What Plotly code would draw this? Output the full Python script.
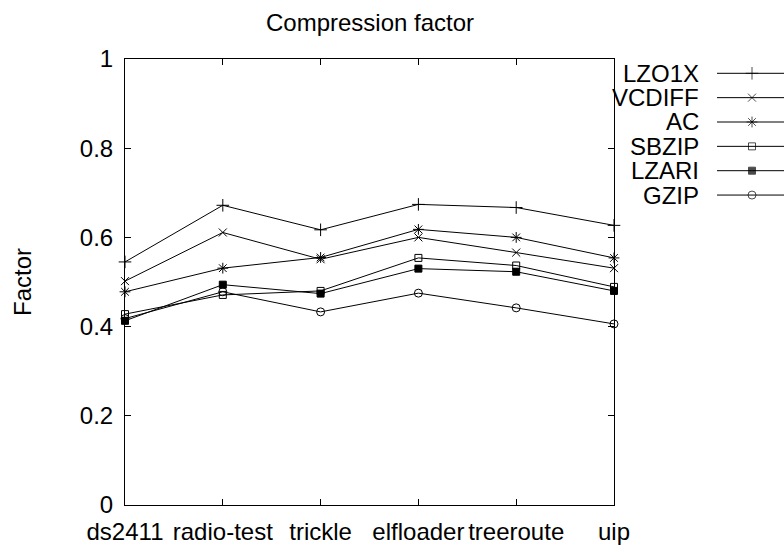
import plotly.graph_objects as go

categories = ["ds2411", "radio-test", "trickle", "elfloader", "treeroute", "uip"]
series_names = ["LZO1X", "VCDIFF", "AC", "SBZIP", "LZARI", "GZIP"]
lzo1x = [0.545, 0.672, 0.617, 0.674, 0.667, 0.627]
vcdiff = [0.502, 0.611, 0.551, 0.600, 0.566, 0.531]
ac = [0.478, 0.531, 0.555, 0.618, 0.600, 0.554]
sbzip = [0.428, 0.471, 0.480, 0.554, 0.537, 0.489]
lzari = [0.413, 0.494, 0.474, 0.530, 0.523, 0.480]
gzip = [0.418, 0.478, 0.433, 0.475, 0.442, 0.406]
y_ticks = [0, 0.2, 0.4, 0.6, 0.8, 1]
y_tick_labels = ["0", "0.2", "0.4", "0.6", "0.8", "1"]

values = [lzo1x, vcdiff, ac, sbzip, lzari, gzip]
symbols = ["cross-thin-open", "x-thin-open", "asterisk-open", "square-open", "square", "circle-open"]
sizes = [9, 8, 9, 7, 7, 8]

FONT = "Liberation Sans, Arial, sans-serif"
FS = 24
W, H = 784, 546
ML, MR, MT, MB = 125, 0, 59, 41
PW = W - ML - MR
PH = H - MT - MB
plot_right = 614
leg_x0 = 705


def px_x(p):
    return (p - ML) / PW


def px_y(p):
    return (H - MB - p) / PH


fig = go.Figure()
xs = list(range(len(categories)))
for name, vals, sym, sz in zip(series_names, values, symbols, sizes):
    fig.add_trace(go.Scatter(
        x=xs, y=vals, mode="lines+markers", name=name,
        line=dict(color="black", width=1),
        marker=dict(symbol=sym, size=sz, color="black",
                    line=dict(color="black", width=1)),
        cliponaxis=False, showlegend=False, xaxis="x", yaxis="y"))

# manual key (gnuplot style): text left, sample on right
row0, row_gap = 73.3, 24.35
annotations = []
for i, (name, sym, sz) in enumerate(zip(series_names, symbols, sizes)):
    yy = row0 + i * row_gap
    fig.add_trace(go.Scatter(
        x=[717, 752, 784], y=[yy, yy, yy], mode="lines+markers",
        line=dict(color="black", width=1),
        marker=dict(symbol=sym, size=[0, sz, 0], color="black",
                    line=dict(color="black", width=1)),
        cliponaxis=False, showlegend=False, xaxis="x2", yaxis="y2",
        hoverinfo="skip"))
    annotations.append(dict(x=px_x(701), y=px_y(yy), xref="paper", yref="paper", text=name,
                            showarrow=False, xanchor="right", yanchor="middle",
                            font=dict(family=FONT, size=FS, color="black")))

annotations.append(dict(x=px_x((ML + plot_right) / 2), y=px_y(22),
                        xref="paper", yref="paper", text="Compression factor",
                        showarrow=False, xanchor="center", yanchor="middle",
                        font=dict(family=FONT, size=FS, color="black")))
annotations.append(dict(x=px_x(22), y=px_y(282),
                        xref="paper", yref="paper", text="Factor", textangle=-90,
                        showarrow=False, xanchor="center", yanchor="middle",
                        font=dict(family=FONT, size=FS, color="black")))

fig.update_layout(
    width=W, height=H,
    margin=dict(l=ML, r=MR, t=MT, b=MB, pad=0, autoexpand=False),
    paper_bgcolor="white", plot_bgcolor="white",
    font=dict(family=FONT, size=FS, color="black"),
    showlegend=False,
    annotations=annotations,
    xaxis=dict(domain=[0, px_x(plot_right)], range=[0, len(categories) - 1],
               tickmode="array", tickvals=xs, ticktext=categories,
               ticks="inside", ticklen=6, tickcolor="black", tickwidth=1,
               showline=True, linecolor="black", linewidth=1, mirror="ticks",
               showgrid=False, zeroline=False, ticklabelstandoff=5,
               tickfont=dict(family=FONT, size=FS, color="black")),
    yaxis=dict(range=[0, 1], tickmode="array", tickvals=y_ticks, ticktext=y_tick_labels,
               ticks="inside", ticklen=6, tickcolor="black", tickwidth=1,
               showline=True, linecolor="black", linewidth=1, mirror="ticks",
               showgrid=False, zeroline=False, ticklabelstandoff=6,
               tickfont=dict(family=FONT, size=FS, color="black")),
    xaxis2=dict(domain=[px_x(leg_x0), 1], range=[leg_x0, W], visible=False,
                anchor="y2", fixedrange=True),
    yaxis2=dict(domain=[0, 1], range=[H - MB, MT], visible=False, anchor="x2",
                fixedrange=True),
)

fig.write_html("out.html", config={"displayModeBar": False, "staticPlot": True},
               post_script="document.body.style.margin='0';document.body.style.overflow='hidden';")
